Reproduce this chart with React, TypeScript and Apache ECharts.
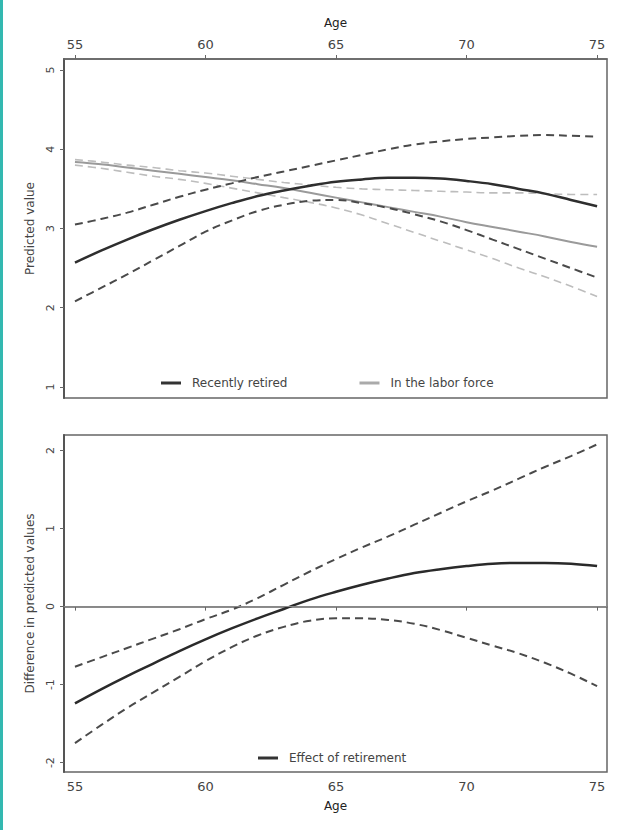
import React, { useEffect, useRef } from "react";
import * as echarts from "echarts";

const ages = [55, 56, 57, 58, 59, 60, 61, 62, 63, 64, 65, 66, 67, 68, 69, 70, 71, 72, 73, 74, 75];
const ageTicks = [55, 60, 65, 70, 75];
const topTicks = [1, 2, 3, 4, 5];
const bottomTicks = [-2, -1, 0, 1, 2];

const retired = [2.57, 2.72, 2.86, 2.99, 3.11, 3.22, 3.32, 3.41, 3.48, 3.54, 3.59, 3.62, 3.64, 3.64, 3.63, 3.6, 3.56, 3.5, 3.44, 3.36, 3.28];
const retiredUpper = [3.05, 3.12, 3.2, 3.3, 3.4, 3.49, 3.57, 3.65, 3.72, 3.79, 3.86, 3.93, 4.0, 4.06, 4.1, 4.13, 4.15, 4.17, 4.18, 4.17, 4.16];
const retiredLower = [2.08, 2.25, 2.42, 2.6, 2.78, 2.96, 3.1, 3.22, 3.3, 3.35, 3.36, 3.32, 3.26, 3.18, 3.09, 2.98, 2.86, 2.74, 2.62, 2.5, 2.38];

const labor = [3.84, 3.81, 3.77, 3.73, 3.69, 3.65, 3.61, 3.56, 3.51, 3.45, 3.39, 3.33, 3.27, 3.21, 3.15, 3.08, 3.02, 2.96, 2.9, 2.83, 2.77];
const laborUpper = [3.87, 3.84, 3.8, 3.77, 3.73, 3.7, 3.66, 3.62, 3.58, 3.55, 3.52, 3.5, 3.49, 3.48, 3.47, 3.46, 3.45, 3.45, 3.44, 3.43, 3.43];
const laborLower = [3.8, 3.76, 3.71, 3.66, 3.62, 3.57, 3.51, 3.45, 3.39, 3.33, 3.26, 3.17, 3.06, 2.95, 2.84, 2.73, 2.62, 2.5, 2.39, 2.27, 2.14];

const effect = [-1.24, -1.06, -0.89, -0.73, -0.57, -0.42, -0.28, -0.15, -0.03, 0.09, 0.19, 0.28, 0.36, 0.43, 0.48, 0.52, 0.55, 0.56, 0.56, 0.55, 0.52];
const effectUpper = [-0.77, -0.65, -0.53, -0.41, -0.29, -0.16, -0.04, 0.11, 0.28, 0.45, 0.61, 0.76, 0.9, 1.05, 1.2, 1.35, 1.49, 1.64, 1.79, 1.93, 2.08];
const effectLower = [-1.75, -1.52, -1.3, -1.1, -0.9, -0.7, -0.52, -0.37, -0.26, -0.18, -0.15, -0.15, -0.17, -0.22, -0.3, -0.4, -0.5, -0.6, -0.72, -0.86, -1.02];

const pairs = (vals: number[]) => ages.map((a, i) => [a, vals[i]]);

const FONT = "'DejaVu Sans', 'Liberation Sans', sans-serif";
const TXT = "#444";

export default function App() {
  const ref = useRef<HTMLDivElement>(null);
  useEffect(() => {
    if (!ref.current) return;
    const chart = echarts.init(ref.current, undefined, { renderer: "svg" });

    const xBase = (gridIndex: number, position: "top" | "bottom", nameGap: number) => ({
      type: "value",
      gridIndex,
      position,
      min: 54.58,
      max: 75.38,
      name: "Age",
      nameLocation: "middle",
      nameGap,
      nameTextStyle: { fontFamily: FONT, fontSize: 12, color: "#222" },
      axisLine: { show: true, lineStyle: { color: "#666", width: 1.5 } },
      axisTick: { show: true, length: 4, customValues: ageTicks, lineStyle: { color: "#666" } },
      axisLabel: { customValues: ageTicks, fontFamily: FONT, fontSize: 13, color: TXT, margin: 8 },
      splitLine: { show: false },
    });

    const yBase = (gridIndex: number, min: number, max: number, ticks: number[], name: string) => ({
      type: "value",
      gridIndex,
      min,
      max,
      name,
      nameLocation: "middle",
      nameRotate: 90,
      nameGap: 28,
      nameTextStyle: { fontFamily: FONT, fontSize: 12, color: TXT },
      axisLine: { show: true, lineStyle: { color: "#555", width: 2 } },
      axisTick: { show: true, length: 4, customValues: ticks, lineStyle: { color: "#666" } },
      axisLabel: { customValues: ticks, rotate: 90, fontFamily: FONT, fontSize: 11, color: TXT, margin: 8 },
      splitLine: { show: false },
    });

    const line = (name: string, vals: number[], idx: number, color: string, width: number, dashed: boolean, z = 2) => ({
      type: "line",
      name,
      xAxisIndex: idx,
      yAxisIndex: idx,
      data: pairs(vals),
      smooth: 0.4,
      showSymbol: false,
      symbol: "none",
      z,
      lineStyle: { color, width, type: dashed ? [8, 5] : "solid" },
      itemStyle: { color },
    });

    chart.setOption({
      animation: false,
      backgroundColor: "#ffffff",
      textStyle: { fontFamily: FONT },
      graphic: [
        { type: "rect", shape: { x: 0, y: 0, width: 3, height: 830 }, style: { fill: "#33b8b0" } },
      ],
      grid: [
        { left: 64, top: 59, width: 543, height: 339, show: true, borderColor: "#666", borderWidth: 1.5, backgroundColor: "#fff" },
        { left: 64, top: 435, width: 543, height: 337, show: true, borderColor: "#666", borderWidth: 1.5, backgroundColor: "#fff" },
      ],
      xAxis: [xBase(0, "top", 30), xBase(1, "bottom", 28)],
      yAxis: [
        yBase(0, 0.86, 5.14, topTicks, "Predicted value"),
        yBase(1, -2.12, 2.2, bottomTicks, "Difference in predicted values"),
      ],
      legend: [
        {
          data: [
            { name: "Recently retired", icon: "rect", itemStyle: { color: "#333" } },
            { name: "In the labor force", icon: "rect", itemStyle: { color: "#aaa" } },
          ],
          left: 156,
          top: 372,
          itemWidth: 20,
          itemHeight: 3,
          itemGap: 72,
          textStyle: { fontFamily: FONT, fontSize: 12, color: TXT, padding: [0, 0, 0, 6] },
        },
        {
          data: [{ name: "Effect of retirement", icon: "rect", itemStyle: { color: "#333" } }],
          left: 253,
          top: 747,
          itemWidth: 20,
          itemHeight: 3,
          textStyle: { fontFamily: FONT, fontSize: 12, color: TXT, padding: [0, 0, 0, 6] },
        },
      ],
      series: [
        line("In the labor force", labor, 0, "#9a9a9a", 2, false, 2),
        line("Labor upper", laborUpper, 0, "#bdbdbd", 1.6, true, 1),
        line("Labor lower", laborLower, 0, "#bdbdbd", 1.6, true, 1),
        line("Recently retired", retired, 0, "#2e2e2e", 2.5, false, 4),
        line("Retired upper", retiredUpper, 0, "#4a4a4a", 2, true, 3),
        line("Retired lower", retiredLower, 0, "#4a4a4a", 2, true, 3),
        {
          ...line("Effect of retirement", effect, 1, "#2a2a2a", 2.5, false, 4),
          markLine: {
            silent: true,
            symbol: "none",
            label: { show: false },
            lineStyle: { color: "#888", width: 1.2, type: "solid" },
            data: [{ yAxis: 0 }],
          },
        },
        line("Effect upper", effectUpper, 1, "#4a4a4a", 2, true, 3),
        line("Effect lower", effectLower, 1, "#4a4a4a", 2, true, 3),
      ],
    });
    return () => chart.dispose();
  }, []);

  return (
    <div
      ref={ref}
      style={{ position: "fixed", left: 0, top: 0, width: 621, height: 830, background: "#fff" }}
    />
  );
}
